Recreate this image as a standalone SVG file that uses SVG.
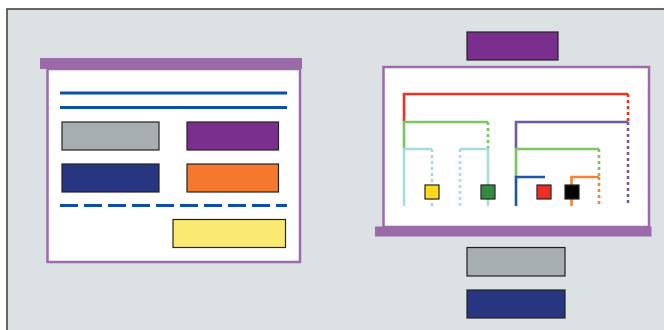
<svg xmlns="http://www.w3.org/2000/svg" width="664" height="330" viewBox="0 0 664 330">
<style>
.box{stroke:#222;stroke-width:1.2}
.frame{fill:#fff;stroke:#9b6bab;stroke-width:2.5}
.bar{fill:#9a6aa9}
.ln{fill:none;stroke-width:2.6}
.dot{stroke-dasharray:3 3}
</style>
<rect x="7" y="9" width="664" height="330" fill="#dce1e3" stroke="#444" stroke-width="1.6"/>
<g id="left-panel">
<rect class="frame" x="47.5" y="69" width="252.5" height="193"/>
<rect class="bar" x="40" y="58" width="262" height="11"/>
<line x1="60" y1="93" x2="287" y2="93" stroke="#0a4fa8" stroke-width="3"/>
<line x1="60" y1="107.5" x2="287" y2="107.5" stroke="#0a4fa8" stroke-width="3"/>
<line x1="60" y1="205.5" x2="287" y2="205.5" stroke="#0a4fa8" stroke-width="3" stroke-dasharray="18 6"/>
</g>
<g id="left-gray"><rect class="box" x="62" y="122" width="97" height="28" fill="#a7afb0"/></g>
<g id="left-purple"><rect class="box" x="187" y="122" width="91.5" height="28" fill="#7a2e8e"/></g>
<g id="left-navy"><rect class="box" x="62" y="164" width="97" height="28" fill="#283682"/></g>
<g id="left-orange"><rect class="box" x="187" y="164" width="91.5" height="28" fill="#f4792e"/></g>
<g id="left-yellow"><rect class="box" x="173" y="219.5" width="112.5" height="28" fill="#fbea72"/></g>
<g id="top-purple"><rect class="box" x="467" y="32" width="91" height="28" fill="#7a2e8e"/></g>
<g id="right-panel">
<rect class="frame" x="383.5" y="67" width="265.5" height="160"/>
<rect class="bar" x="375" y="226.5" width="276.5" height="10"/>
</g>
<g id="bottom-gray"><rect class="box" x="467" y="247.5" width="98" height="28.5" fill="#a7afb0"/></g>
<g id="bottom-navy"><rect class="box" x="467" y="290" width="98" height="28" fill="#283682"/></g>
<g id="connectors">
<path class="ln" stroke="#ee3124" d="M404,122 V94 H628"/>
<path class="ln dot" stroke="#ee3124" d="M628,94 V122"/>
<path class="ln" stroke="#7dc462" d="M404,149 V122 H488"/>
<path class="ln dot" stroke="#7dc462" d="M488,122 V149"/>
<path class="ln" stroke="#a5dcdc" d="M404,206 V149 H432"/>
<path class="ln dot" stroke="#a5dcdc" d="M432,149 V206"/>
<path class="ln" stroke="#a5dcdc" d="M460,149 H488 V206"/>
<path class="ln dot" stroke="#a5dcdc" d="M460,149 V206"/>
<path class="ln" stroke="#6e5aa8" d="M516,149 V122 H628"/>
<path class="ln dot" stroke="#6e5aa8" d="M628,122 V206"/>
<path class="ln" stroke="#7dc462" d="M516,177 V149 H599"/>
<path class="ln dot" stroke="#7dc462" d="M599,149 V177"/>
<path class="ln" stroke="#1c56a8" d="M516,206 V177 H545"/>
<path class="ln" stroke="#f7823a" d="M571.5,206 V177 H599"/>
<path class="ln dot" stroke="#f7823a" d="M599,177 V206"/>
</g>
<g id="sq-yellow"><rect class="box" x="425" y="185" width="14" height="14" fill="#ffd91e"/></g>
<g id="sq-green"><rect class="box" x="481" y="185" width="14" height="14" fill="#358a42"/></g>
<g id="sq-red"><rect class="box" x="537" y="185" width="14" height="14" fill="#ee2d27"/></g>
<g id="sq-black"><rect class="box" x="565" y="185" width="14" height="14" fill="#000"/></g>
</svg>
